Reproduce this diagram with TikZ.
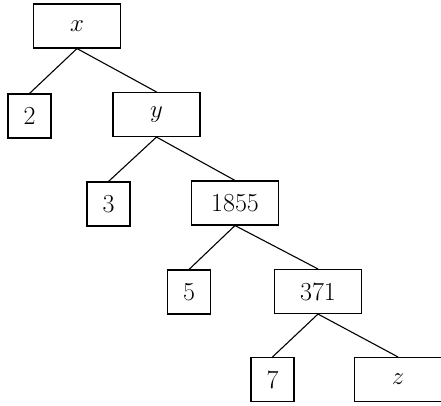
\documentclass[tikz,border=0pt]{standalone}
\begin{document}
\begin{tikzpicture}[x=1pt,y=-1pt,
  box/.style={draw, line width=1.1pt, inner sep=0pt, minimum height=44pt, font=\fontsize{26}{30}\selectfont},
  smallbox/.style={box, minimum width=43pt},
  widebox/.style={box, minimum width=87pt},
  edge/.style={line width=1.1pt}]
\useasboundingbox (0,0) rectangle (441,405);
\node[widebox] (x) at (77,26) {$x$};
\node[smallbox] (n2) at (29.5,116) {2};
\node[widebox] (y) at (156.5,114.5) {$y$};
\node[smallbox] (n3) at (108.5,204) {3};
\node[widebox] (n1855) at (235,203) {1855};
\node[smallbox] (n5) at (189,292) {5};
\node[widebox] (n371) at (318,291.5) {371};
\node[smallbox] (n7) at (272.5,379.5) {7};
\node[widebox] (z) at (398,379.5) {$z$};
\draw[edge] (x.south) -- (n2.north);
\draw[edge] (x.south) -- (y.north);
\draw[edge] (y.south) -- (n3.north);
\draw[edge] (y.south) -- (n1855.north);
\draw[edge] (n1855.south) -- (n5.north);
\draw[edge] (n1855.south) -- (n371.north);
\draw[edge] (n371.south) -- (n7.north);
\draw[edge] (n371.south) -- (z.north);
\end{tikzpicture}
\end{document}
